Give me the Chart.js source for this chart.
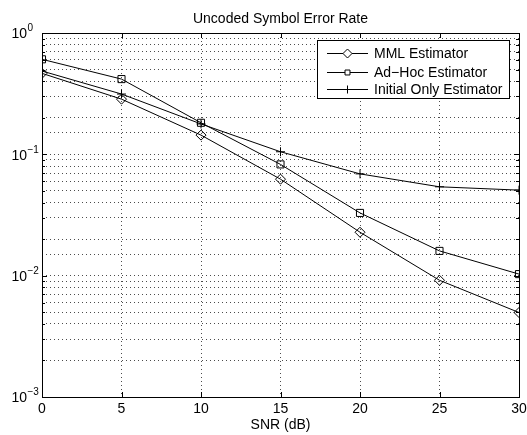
<!DOCTYPE html>
<html>
<head>
<meta charset="utf-8">
<script src="https://cdn.jsdelivr.net/npm/chart.js@4"></script>
<style>
  body { margin: 0; background: #fff; }
</style>
</head>
<body>
<canvas id="serChart" width="527" height="435"></canvas>
<script>
// data
const snr = [0, 5, 10, 15, 20, 25, 30];
const mml = [0.465, 0.285, 0.144, 0.0624, 0.0228, 0.00916, 0.00497];
const adHoc = [0.607, 0.417, 0.182, 0.0826, 0.0329, 0.016, 0.0103];
const initialOnly = [0.486, 0.314, 0.178, 0.105, 0.069, 0.054, 0.0507];
const xTicks = [0, 5, 10, 15, 20, 25, 30];
const yDecades = [0, -1, -2, -3];

const names = ['MML Estimator', 'Ad\u2212Hoc Estimator', 'Initial Only Estimator'];
const styles = ['rectRot', 'rect', 'cross'];
const FONT = '"Liberation Sans", Arial, Helvetica, sans-serif';

const pts = (ys) => snr.map((x, i) => ({ x: x, y: ys[i] }));

function mkSet(label, ys, style, r) {
  return {
    label: label,
    data: pts(ys),
    borderColor: '#000',
    borderWidth: 1,
    backgroundColor: 'rgba(0,0,0,0)',
    pointStyle: style,
    pointRadius: r,
    pointBorderColor: '#000',
    pointBorderWidth: 1,
    tension: 0
  };
}

// matlab style frame, ticks, labels and legend
const matlabFrame = {
  id: 'matlabFrame',
  afterDraw(chart) {
    const ctx = chart.ctx;
    const a = chart.chartArea;
    const xs = chart.scales.x, ys = chart.scales.y;
    ctx.save();
    ctx.strokeStyle = '#000';
    ctx.lineWidth = 1;
    ctx.strokeRect(Math.round(a.left) + 0.5, Math.round(a.top) + 0.5,
      Math.round(a.right - a.left), Math.round(a.bottom - a.top));

    // inward ticks
    ctx.beginPath();
    xTicks.forEach(t => {
      const px = Math.round(xs.getPixelForValue(t)) + 0.5;
      ctx.moveTo(px, a.bottom); ctx.lineTo(px, a.bottom - 5);
      ctx.moveTo(px, a.top); ctx.lineTo(px, a.top + 5);
    });
    for (let e = -3; e < 0; e++) {
      for (let m = 1; m <= 9; m++) {
        const v = m * Math.pow(10, e);
        const py = Math.round(ys.getPixelForValue(v)) + 0.5;
        const len = m === 1 ? 5 : 3;
        ctx.moveTo(a.left, py); ctx.lineTo(a.left + len, py);
        ctx.moveTo(a.right, py); ctx.lineTo(a.right - len, py);
      }
    }
    ctx.stroke();

    // tick labels
    ctx.fillStyle = '#000';
    ctx.font = '14px ' + FONT;
    ctx.textAlign = 'center';
    ctx.textBaseline = 'middle';
    xTicks.forEach(t => {
      ctx.fillText(String(t), xs.getPixelForValue(t), a.bottom + 12);
    });
    ctx.fillText('SNR (dB)', (a.left + a.right) / 2, a.bottom + 28);

    yDecades.forEach(e => {
      const py = ys.getPixelForValue(Math.pow(10, e));
      const ex = String(e).replace('-', '\u2212');
      ctx.textBaseline = 'middle';
      ctx.font = '14px ' + FONT;
      ctx.textAlign = 'right';
      ctx.fillText('10', 27, py + 1.5);
      ctx.font = '10px ' + FONT;
      ctx.textAlign = 'left';
      ctx.fillText(ex, 27.5, py - 4.5);
    });

    // title
    ctx.font = '14px ' + FONT;
    ctx.textAlign = 'center';
    ctx.textBaseline = 'middle';
    ctx.fillText('Uncoded Symbol Error Rate', (a.left + a.right) / 2, 19);

    // legend
    const lx = 317, ly = 40, lw = 192, lh = 58;
    ctx.fillStyle = '#fff';
    ctx.fillRect(lx, ly, lw, lh);
    ctx.strokeStyle = '#000';
    ctx.strokeRect(lx + 0.5, ly + 0.5, lw, lh);
    const rows = [53, 71.5, 89];
    const legR = [4.5, 3.5, 4];
    chart.data.datasets.forEach((ds, i) => {
      const y = Math.round(rows[i]) + 0.5;
      ctx.beginPath();
      ctx.moveTo(327, y); ctx.lineTo(368, y);
      ctx.stroke();
      ctx.fillStyle = '#fff';
      Chart.helpers.drawPoint(ctx, { pointStyle: styles[i], radius: legR[i], borderWidth: 1 }, 347.5, y);
      ctx.fillStyle = '#000';
      ctx.font = '14px ' + FONT;
      ctx.textAlign = 'left';
      ctx.textBaseline = 'middle';
      ctx.fillText(names[i], 374, y + 0.5);
    });
    ctx.restore();
  }
};

const gridOpts = { drawTicks: false, tickLength: 0, color: 'rgba(0,0,0,0.7)' };
const borderOpts = { display: false, dash: [1, 3] };

const serChart = new Chart(document.getElementById('serChart').getContext('2d'), {
  type: 'line',
  data: {
    datasets: [
      mkSet(names[0], mml, styles[0], 5),
      mkSet(names[1], adHoc, styles[1], 5),
      mkSet(names[2], initialOnly, styles[2], 4.5)
    ]
  },
  options: {
    responsive: false,
    animation: false,
    layout: { padding: { left: 42, right: 8, top: 33, bottom: 38 } },
    plugins: { legend: { display: false }, title: { display: false }, tooltip: { enabled: false } },
    scales: {
      x: {
        type: 'linear', min: 0, max: 30,
        ticks: { display: false, stepSize: 5 },
        border: borderOpts,
        grid: gridOpts
      },
      y: {
        type: 'logarithmic', min: 0.001, max: 1,
        ticks: { display: false },
        border: borderOpts,
        grid: gridOpts
      }
    }
  },
  plugins: [matlabFrame]
});
</script>
</body>
</html>
